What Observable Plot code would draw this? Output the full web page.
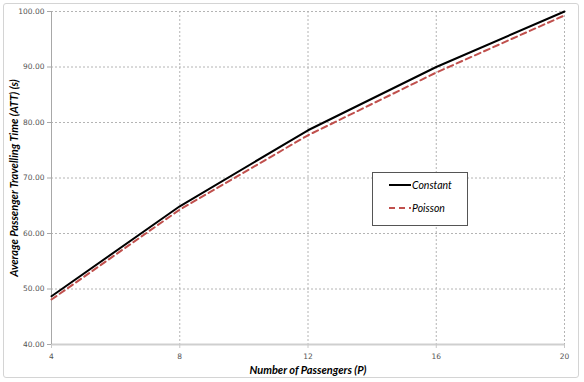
<!DOCTYPE html>
<html>
<head>
<meta charset="utf-8">
<script src="https://cdn.jsdelivr.net/npm/d3@7"></script>
<script src="https://cdn.jsdelivr.net/npm/@observablehq/plot@0.6"></script>
<style>
  html, body { margin: 0; padding: 0; background: #fff; }
  #wrap { position: relative; width: 584px; height: 382px; overflow: hidden; }
  #frame { position: absolute; left: 3px; top: 3px; width: 574px; height: 373px;
           border: 1px solid #d4d4d4; border-radius: 3px; pointer-events: none; }
  #legend { position: absolute; left: 372px; top: 172px; width: 96px; height: 54px;
            border: 1px solid #555; background: #fff; box-sizing: border-box;
            font-family: Lato, "Liberation Sans", sans-serif; font-style: italic; font-size: 10.5px; color: #000; }
  .row { position: absolute; left: 16px; display: flex; align-items: center; }
  .row svg { margin-right: 1px; }
</style>
</head>
<body>
<div id="wrap">
  <div id="chart"></div>
  <div id="frame"></div>
  <div id="legend"></div>
</div>
<script>
const passengers = [4, 8, 12, 16, 20];
const constantATT = [48.7, 64.9, 78.6, 90.0, 100.0];
const poissonATT = [48.1, 64.3, 77.7, 89.0, 99.3];
const seriesNames = ["Constant", "Poisson"];
const xTicks = [4, 8, 12, 16, 20];
const yTicks = [40, 50, 60, 70, 80, 90, 100];
const xLabel = "Number of Passengers (P)";
const yLabel = "Average Passenger Travelling Time (ATT) (s)";

const rows = [];
passengers.forEach((p, i) => {
  rows.push({P: p, ATT: constantATT[i], series: seriesNames[0]});
  rows.push({P: p, ATT: poissonATT[i], series: seriesNames[1]});
});

const labelFont = {fontFamily: "Lato, 'Liberation Sans', sans-serif", fontWeight: "bold", fontStyle: "italic", fontSize: 11, fill: "#000"};

const chart = Plot.plot({
  width: 584,
  height: 382,
  marginLeft: 51,
  marginRight: 20,
  marginTop: 11,
  marginBottom: 38,
  style: {background: "transparent", fontFamily: "'DejaVu Sans', Verdana, sans-serif", fontSize: "7.5px", color: "#555"},
  x: {domain: [4, 20], ticks: xTicks},
  y: {domain: [40, 100], ticks: yTicks},
  marks: [
    Plot.gridX(xTicks.slice(1), {stroke: "#b4b4b4", strokeOpacity: 1, strokeDasharray: "2,2"}),
    Plot.gridY(yTicks.slice(1), {stroke: "#b4b4b4", strokeOpacity: 1, strokeDasharray: "2,2"}),
    Plot.ruleY([40], {stroke: "#cfcfcf", strokeWidth: 2}),
    Plot.ruleX([4], {stroke: "#a8a8a8", strokeWidth: 1}),
    Plot.axisY(yTicks, {tickFormat: d3.format(".2f"), tickSize: 4, tickPadding: 3, stroke: "#a8a8a8", label: null, fill: "#555"}),
    Plot.axisX(xTicks, {tickSize: 4, tickPadding: 5, stroke: "#c8c8c8", label: null, fill: "#555"}),
    Plot.line(rows.filter(d => d.series === seriesNames[1]), {x: "P", y: "ATT", stroke: "#c0504d", strokeWidth: 2, strokeDasharray: "6,4"}),
    Plot.line(rows.filter(d => d.series === seriesNames[0]), {x: "P", y: "ATT", stroke: "#000", strokeWidth: 2}),
    Plot.text([xLabel], {frameAnchor: "bottom", dy: 26, textAnchor: "middle", lineAnchor: "middle", ...labelFont}),
    Plot.text([yLabel], {frameAnchor: "left", dx: -37, rotate: -90, textAnchor: "middle", lineAnchor: "middle", ...labelFont})
  ]
});
document.getElementById("chart").appendChild(chart);

const legend = document.getElementById("legend");
const styles = [
  {stroke: "#000", dash: ""},
  {stroke: "#c0504d", dash: "6,4"}
];
seriesNames.forEach((name, i) => {
  const row = document.createElement("div");
  row.className = "row";
  row.style.top = (i === 0 ? 5 : 28) + "px";
  row.innerHTML = `<svg width="22" height="14"><line x1="0" x2="22" y1="7" y2="7" stroke="${styles[i].stroke}" stroke-width="2" ${styles[i].dash ? `stroke-dasharray="${styles[i].dash}"` : ""}/></svg><span>${name}</span>`;
  legend.appendChild(row);
});
</script>
</body>
</html>
